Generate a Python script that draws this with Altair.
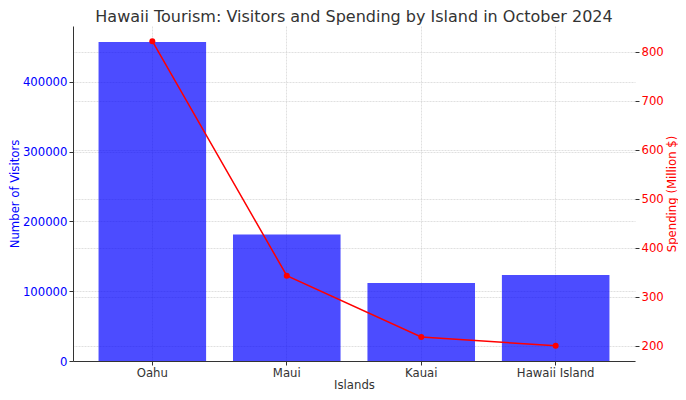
import altair as alt
import pandas as pd

islands = ["Oahu", "Maui", "Kauai", "Hawaii Island"]
visitors = [457400, 181500, 111700, 123200]
spending = [821, 343, 218, 200]

df = pd.DataFrame({"Island": islands, "Visitors": visitors, "Spending": spending})

FONT = "DejaVu Sans"
GRID = dict(grid=True, gridColor="#c8c8c8", gridOpacity=0.8, gridDash=[2, 1], gridWidth=0.7)

x = alt.X(
    "Island:N",
    sort=islands,
    title="Islands",
    scale=alt.Scale(paddingInner=0.2, paddingOuter=0.19),
    axis=alt.Axis(labelAngle=0, bandPosition=0.5, labelFontSize=11.7, titleFontSize=11.7,
                  labelColor="#333333", titleColor="#333333", domainColor="#333333",
                  tickColor="#333333", tickSize=4, labelPadding=2, titlePadding=1,
                  titleFontWeight="normal", labelFont=FONT, titleFont=FONT, **GRID),
)

bars = alt.Chart(df).mark_bar(color="#0000ff", opacity=0.7).encode(
    x=x,
    y=alt.Y(
        "Visitors:Q",
        title="Number of Visitors",
        scale=alt.Scale(domain=[0, 480270], nice=False, zero=False),
        axis=alt.Axis(values=[0, 100000, 200000, 300000, 400000], format="d",
                      labelColor="#0000ff", titleColor="#0000ff", labelFontSize=11.7,
                      titleFontSize=11.7, titleFontWeight="normal", labelFont=FONT,
                      titleFont=FONT, domainColor="#333333", tickColor="#333333",
                      tickSize=4, labelPadding=2, titlePadding=2, **GRID),
    ),
)

line = alt.Chart(df).mark_line(color="#ff0000", strokeWidth=1.5, point=alt.OverlayMarkDef(color="#ff0000", size=36, filled=True, opacity=1)).encode(
    x=x,
    y=alt.Y(
        "Spending:Q",
        title="Spending (Million $)",
        scale=alt.Scale(domain=[169, 852], nice=False, zero=False),
        axis=alt.Axis(orient="right", values=[200, 300, 400, 500, 600, 700, 800],
                      labelColor="#ff0000", titleColor="#ff0000", labelFontSize=11.7,
                      titleFontSize=11.7, titleFontWeight="normal", labelFont=FONT,
                      titleFont=FONT, domain=False, tickColor="#333333", tickSize=4,
                      labelPadding=2, titlePadding=3, titleAngle=270, titleBaseline="top",
                      **GRID),
    ),
)

chart = alt.layer(bars, line).resolve_scale(y="independent").properties(
    width=562,
    height=335,
    title=alt.TitleParams(
        "Hawaii Tourism: Visitors and Spending by Island in October 2024",
        fontSize=16, font=FONT, color="#333333", fontWeight="normal", anchor="middle", offset=1,
    ),
    autosize=alt.AutoSizeParams(type="none"),
    padding={"left": 65, "top": 18, "right": 43, "bottom": 31},
).configure_view(stroke=None)

chart.save("out.html", embed_options={"renderer": "svg", "actions": False})
